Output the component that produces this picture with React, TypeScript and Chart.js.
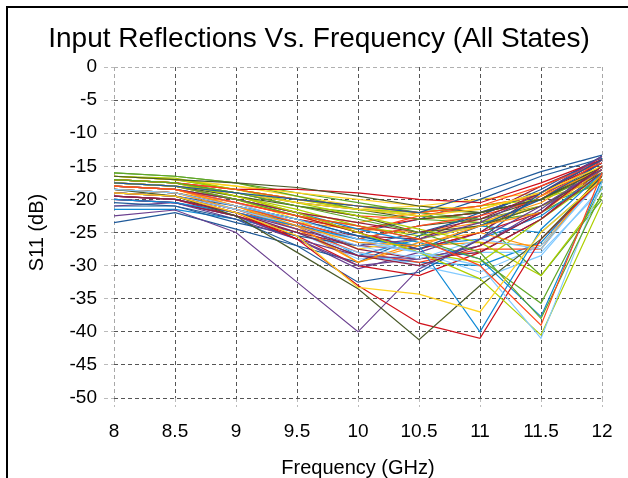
import React, { useEffect, useRef } from "react";
import { Chart, registerables } from "chart.js";

Chart.register(...registerables);

const frequencyLabels = ["8", "8.5", "9", "9.5", "10", "10.5", "11", "11.5", "12"];
const chartTitle = "Input Reflections Vs. Frequency (All States)";
const xTitle = "Frequency (GHz)";
const yTitle = "S11 (dB)";

const palette = [
  "#1f5a9a", "#ff4a1e", "#ffd320", "#5fa628", "#952040", "#83caff",
  "#4a5a2a", "#aecf00", "#6a3f8f", "#ff950e", "#d0101a", "#0f8ad6",
];

// S11 (dB) per state at 8, 8.5, 9, 9.5, 10, 10.5, 11, 11.5, 12 GHz
const st01 = [-17.5, -18, -19, -20, -21, -22, -19, -15.8, -13.3];
const st02 = [-18, -18.5, -20.5, -22.5, -24, -26, -30, -39, -16];
const st03 = [-19, -19.5, -22, -25.5, -33.3, -34.3, -37, -25, -17];
const st04 = [-17, -17.5, -19, -21, -23, -25, -28, -38, -19];
const st05 = [-19.5, -20, -22, -25, -28.5, -30, -27, -22, -15];
const st06 = [-18.5, -19, -21, -23, -26, -28, -30, -41, -17.5];
const st07 = [-18.5, -19.5, -22.5, -28, -33.5, -41.2, -33, -26, -16.5];
const st08 = [-17, -17.5, -19.5, -22, -25, -28, -32, -40.5, -20.5];
const st09 = [-22.5, -21.6, -25, -32.5, -40, -30.5, -26, -21, -15.5];
const st10 = [-18, -18.5, -21, -24, -26.5, -27, -24, -22, -15.5];
const st11 = [-19, -19.5, -22, -26, -33, -38.7, -41, -26, -17];
const st12 = [-20, -20.5, -22, -24, -26, -27, -40, -24.5, -16];
const st13 = [-20.5, -21, -23, -27, -32.5, -31, -26, -19, -14];
const st14 = [-17, -17.5, -18.5, -20, -21, -22, -21, -18, -14.5];
const st15 = [-17.5, -18, -19, -20.5, -21.5, -22.5, -21.5, -19, -15];
const st16 = [-17.5, -18, -20, -22.5, -24, -26, -29, -35.7, -18];
const st17 = [-18, -18.5, -20, -22, -23.5, -25, -23, -19, -14];
const st18 = [-19, -19.5, -21.5, -24, -27, -29, -26, -27.5, -16.5];
const st19 = [-16.5, -17, -17.5, -18.2, -19.5, -21, -22, -20, -15.5];
const st20 = [-16.5, -16.8, -18.5, -20.5, -22.5, -24.5, -26.5, -31.5, -19.5];
const st21 = [-19.5, -20, -22, -24.5, -27, -26, -23.5, -19, -13.5];
const st22 = [-18.5, -19, -21.5, -24, -29.5, -26.5, -25, -27.5, -16];
const st23 = [-17, -17.5, -18.5, -18.5, -19, -20, -20.5, -17.5, -14];
const st24 = [-18, -18.5, -20, -22, -24.5, -26.5, -29, -37.7, -17];
const st25 = [-19, -19.5, -21, -23, -25.5, -27.5, -24, -20, -14.5];
const st26 = [-18.5, -19, -21, -23.5, -26, -24, -22.5, -20, -14];
const st27 = [-16.5, -17, -18, -19, -20, -21, -21.5, -19, -15];
const st28 = [-16, -16.5, -17.5, -19.5, -21.5, -22.5, -23, -31.5, -20];
const st29 = [-19, -19.5, -21.5, -24, -27.5, -29, -28, -23, -16];
const st30 = [-18, -18.5, -20.5, -23.5, -26.5, -28, -31, -27, -17];
const st31 = [-17.5, -18, -19.5, -21, -22.5, -25, -24, -21, -16];
const st32 = [-16.5, -17, -18.5, -20, -21.5, -22, -21, -20, -17];
const st33 = [-21, -20.5, -23, -26, -28.5, -29, -27, -21.5, -15];
const st34 = [-17, -17.5, -19.5, -22, -23.5, -22, -21, -19.5, -15.5];
const st35 = [-18, -18.5, -20.5, -22.5, -25, -27.5, -25, -22, -15];
const st36 = [-18.5, -19, -21, -23, -25.5, -27, -26, -22.5, -16];
const st37 = [-21, -21, -23.5, -25.5, -27, -25, -22.5, -18.5, -13.5];
const st38 = [-17.5, -18, -20, -22, -25, -22.5, -21, -19.5, -13.5];
const st39 = [-18, -18.5, -20, -23, -27.5, -26, -24, -21, -16];
const st40 = [-17, -17.5, -19, -21, -22, -23, -23.5, -22, -17];
const st41 = [-20, -20.5, -22.5, -25, -27, -27.5, -25, -19, -14.5];
const st42 = [-19, -19.5, -22, -25, -28, -30, -32, -28.5, -18];
const st43 = [-17, -17.5, -19, -20.5, -21.5, -23, -22, -20, -15];
const st44 = [-17.5, -18, -20, -22.5, -25, -28, -29.5, -23, -16.5];
const st45 = [-20, -20.5, -22.5, -26, -30, -29, -27, -22, -14];
const st46 = [-18, -18.5, -21, -24.5, -29.5, -27, -26.5, -27, -16.5];
const st47 = [-19.5, -20, -22.5, -25.5, -30, -31.5, -28, -23, -15.5];
const st48 = [-21.5, -21.5, -23, -25, -28.5, -26, -24, -25, -17];
const st49 = [-23.5, -22, -24.5, -27, -29.5, -25.5, -22, -19, -14];
const st50 = [-19, -19.5, -21.5, -24.5, -28, -29.5, -27.5, -27.5, -16];
const st51 = [-16.5, -17, -18, -19.5, -21, -22.5, -23.5, -21, -16];
const st52 = [-16.5, -17, -18.5, -20, -21, -21.5, -22, -20, -16];
const st53 = [-19.5, -20, -22, -24, -25.5, -26, -22.5, -18, -14];
const st54 = [-19.5, -20, -22, -25, -29, -28.5, -28, -28, -18.5];
const st55 = [-18.5, -19, -21, -23.5, -26, -24, -23, -20, -15];
const st56 = [-17, -17.5, -19.5, -21.5, -24, -25.5, -24, -21, -17];
const st57 = [-20, -20.5, -22.5, -26, -30.5, -28, -25, -19.5, -14.5];
const st58 = [-18.5, -19, -20.5, -23.5, -24.5, -25, -23.5, -20.5, -15];
const st59 = [-18.5, -19, -21, -23, -24.5, -23, -22, -19, -14.5];
const st60 = [-19, -19.5, -21.5, -23.5, -28.5, -29.5, -30, -26.5, -16.5];
const st61 = [-18, -18.5, -20, -22, -25, -23, -20, -16.5, -13.8];
const st62 = [-17.5, -18, -19, -21, -22.5, -23, -22, -20, -15];
const st63 = [-17, -17.5, -18.5, -20, -21.5, -21, -20, -19, -15.5];
const st64 = [-16, -16.5, -17.5, -19, -20.5, -22, -23, -21, -17.5];

const states = [
  st01, st02, st03, st04, st05, st06, st07, st08, st09, st10, st11, st12, st13, st14, st15, st16,
  st17, st18, st19, st20, st21, st22, st23, st24, st25, st26, st27, st28, st29, st30, st31, st32,
  st33, st34, st35, st36, st37, st38, st39, st40, st41, st42, st43, st44, st45, st46, st47, st48,
  st49, st50, st51, st52, st53, st54, st55, st56, st57, st58, st59, st60, st61, st62, st63, st64,
];

const FONT = '"Liberation Sans", Arial, Helvetica, sans-serif';

const framePlugin = {
  id: "frameAndTitle",
  afterDraw(chart: any) {
    const ctx = chart.ctx;
    ctx.save();
    ctx.fillStyle = "#000";
    ctx.fillRect(6, 6, 622, 2);
    ctx.fillRect(6, 6, 2, 472);
    ctx.font = `28px ${FONT}`;
    ctx.textAlign = "center";
    ctx.textBaseline = "alphabetic";
    ctx.fillStyle = "#000";
    ctx.fillText(chartTitle, 319, 47);
    ctx.restore();
  },
};

export default function App() {
  const canvasRef = useRef<HTMLCanvasElement | null>(null);

  useEffect(() => {
    const canvas = canvasRef.current;
    if (!canvas) return;
    const chart = new Chart(canvas, {
      type: "line",
      data: {
        labels: frequencyLabels,
        datasets: states.map((vals, i) => ({
          label: `State ${i + 1}`,
          data: vals,
          borderColor: palette[i % palette.length],
          backgroundColor: palette[i % palette.length],
          borderWidth: 1.2,
          pointRadius: 0,
          tension: 0,
          fill: false,
        })),
      },
      options: {
        animation: false,
        responsive: false,
        maintainAspectRatio: false,
        devicePixelRatio: 1,
        layout: { padding: { left: 0, right: 26, top: 67, bottom: 0 } },
        plugins: {
          legend: { display: false },
          title: { display: false },
          tooltip: { enabled: false },
        },
        scales: {
          x: {
            type: "category",
            offset: false,
            afterFit: (scale: any) => {
              scale.height = 80;
            },
            grid: {
              color: (c: any) => (c.index === 0 || c.index === 8 ? "#a8a8a8" : "#555555"),
              lineWidth: 1,
              tickLength: 9,
              tickColor: "#bbbbbb",
              tickBorderDash: [4, 3],
            },
            border: { display: false, dash: [4, 3] },
            ticks: {
              color: "#000",
              font: { family: FONT, size: 19 },
              padding: 13,
              maxRotation: 0,
              autoSkip: false,
            },
            title: {
              display: true,
              text: xTitle,
              color: "#000",
              font: { family: FONT, size: 20 },
              padding: { top: 0, bottom: -2 },
            },
          },
          y: {
            type: "linear",
            min: -50,
            max: 0,
            afterFit: (scale: any) => {
              scale.width = 114;
            },
            grid: {
              color: (c: any) => (c.tick && c.tick.value === 0 ? "#b0b0b0" : "#555555"),
              lineWidth: 1,
              tickLength: 10,
              tickColor: "#bbbbbb",
              tickBorderDash: [4, 3],
            },
            border: { display: false, dash: [4, 3] },
            ticks: {
              stepSize: 5,
              color: "#000",
              font: { family: FONT, size: 19 },
              padding: 7,
            },
            title: {
              display: true,
              text: yTitle,
              color: "#000",
              font: { family: FONT, size: 20 },
              padding: { top: 25, bottom: 0 },
            },
          },
        },
      },
      plugins: [framePlugin],
    });
    return () => chart.destroy();
  }, []);

  return (
    <div style={{ position: "absolute", left: 0, top: 0, width: 628, height: 478, background: "#fff" }}>
      <canvas ref={canvasRef} width={628} height={478} style={{ display: "block", width: 628, height: 478 }} />
    </div>
  );
}
